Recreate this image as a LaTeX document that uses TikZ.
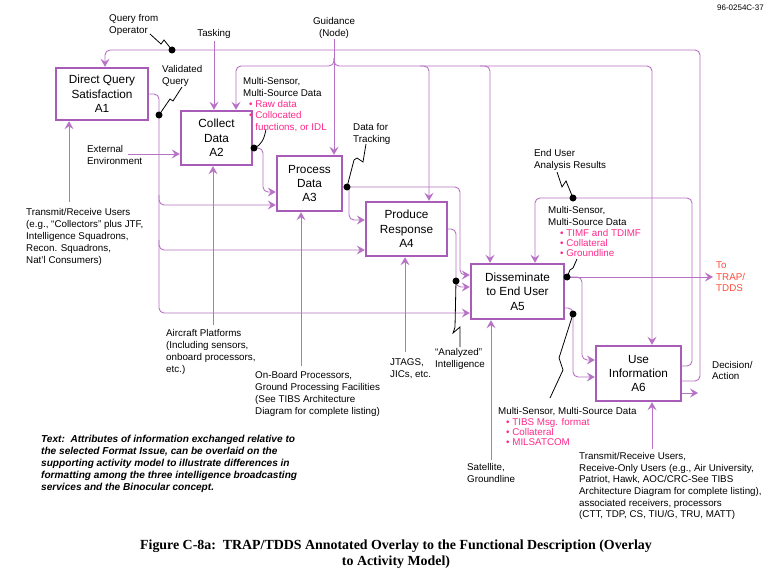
\documentclass[tikz,border=0pt]{standalone}
\usepackage{fontspec}
\setmainfont{Liberation Sans}
\newfontfamily\capfont{Liberation Serif}
\usetikzlibrary{arrows.meta}
\definecolor{linecol}{HTML}{B772C6}
\definecolor{boxcol}{HTML}{A85CB8}
\definecolor{pinkcol}{HTML}{FF2A8A}
\definecolor{redcol}{HTML}{FF4A3A}
\begin{document}
\begin{tikzpicture}[x=1pt,y=-1pt,
 box/.style={draw=boxcol, line width=2.4pt, align=center, inner sep=0pt, font=\fontsize{11.8}{14.3}\selectfont},
 conn/.style={draw=linecol, line width=0.9pt, rounded corners=5pt},
 arr/.style={conn, -{Stealth[length=8pt,width=9pt,inset=3pt,fill=linecol]}},
 lab/.style={align=left, inner sep=0pt, anchor=north west, font=\fontsize{9.8}{12}\selectfont},
 pinklab/.style={lab, text=pinkcol, font=\fontsize{9.8}{10.3}\selectfont},
 bolt/.style={draw=black, line width=0.8pt},
 dot/.style={circle, fill=black, inner sep=0pt, minimum size=7pt},
]
\useasboundingbox[fill=white] (0,0) rectangle (775,575);

% boxes
\node[box, minimum width=92pt, minimum height=52pt] (A1) at (102,94) {Direct Query\\Satisfaction\\A1};
\node[box, minimum width=71pt, minimum height=54pt] (A2) at (216.5,138) {Collect\\Data\\A2};
\node[box, minimum width=65pt, minimum height=55pt] (A3) at (309.5,183.5) {Process\\Data\\A3};
\node[box, minimum width=81pt, minimum height=54pt] (A4) at (406.5,229) {Produce\\Response\\A4};
\node[box, minimum width=93pt, minimum height=55pt] (A5) at (517.5,291.5) {Disseminate\\to End User\\A5};
\node[box, minimum width=85pt, minimum height=55pt] (A6) at (638.5,373.5) {Use\\Information\\A6};

% labels
\node[lab, anchor=north east, font=\fontsize{8}{9}\selectfont] (ref) at (764,5) {96-0254C-37};
\node[lab] (qfo) at (109,14) {Query from\\Operator};
\node[lab, anchor=south] (task) at (214,38.5) {Tasking};
\node[lab, anchor=south, align=center] (guid) at (334,38.5) {Guidance\\(Node)};
\node[lab] (vq) at (162,65) {Validated\\Query};
\node[lab] (ms2) at (243,77) {Multi-Sensor,\\Multi-Source Data};
\node[pinklab, font=\fontsize{9.8}{11.5}\selectfont] (pk2) at (249,100) {\textbullet\ Raw data\\\textbullet\ Collocated\\\phantom{\textbullet\ }functions, or IDL};
\node[lab] (dft) at (353,123) {Data for\\Tracking};
\node[lab] (eua) at (534,149) {End User\\Analysis Results};
\node[lab] (ms5) at (548,206) {Multi-Sensor,\\Multi-Source Data};
\node[pinklab] (pk5) at (560,229) {\textbullet\ TIMF and TDIMF\\\textbullet\ Collateral\\\textbullet\ Groundline};
\node[lab, text=redcol, font=\fontsize{9.8}{11.5}\selectfont] (trap) at (716,262) {To\\TRAP/\\TDDS};
\node[lab, font=\fontsize{9.8}{11}\selectfont] (dec) at (712,361) {Decision/\\Action};
\node[lab] (ext) at (87,145) {External\\Environment};
\node[lab] (trl) at (26,208) {Transmit/Receive Users\\(e.g., ``Collectors'' plus JTF,\\Intelligence Squadrons,\\Recon. Squadrons,\\Nat'l Consumers)};
\node[lab] (air) at (166,329) {Aircraft Platforms\\(Including sensors,\\onboard processors,\\etc.)};
\node[lab] (obp) at (255,371) {On-Board Processors,\\Ground Processing Facilities\\(See TIBS Architecture\\Diagram for complete listing)};
\node[lab] (jt) at (390,358) {JTAGS,\\JICs, etc.};
\node[lab] (ai) at (435,348) {``Analyzed''\\Intelligence};
\node[lab] (sat) at (467,463) {Satellite,\\Groundline};
\node[lab] (ms6) at (498,407) {Multi-Sensor, Multi-Source Data};
\node[pinklab] (pk6) at (506,418) {\textbullet\ TIBS Msg. format\\\textbullet\ Collateral\\\textbullet\ MILSATCOM};
\node[lab, font=\fontsize{9.8}{11.7}\selectfont] (trr) at (579,452) {Transmit/Receive Users,\\Receive-Only Users (e.g., Air University,\\Patriot, Hawk, AOC/CRC-See TIBS\\Architecture Diagram for complete listing),\\associated receivers, processors\\(CTT, TDP, CS, TIU/G, TRU, MATT)};
\node[lab, font=\fontsize{10.1}{12}\selectfont\bfseries\itshape] (txt) at (41,434.5) {Text:\ \ Attributes of information exchanged relative to\\the selected Format Issue, can be overlaid on the\\supporting activity model to illustrate differences in\\formatting among the three intelligence broadcasting\\services and the Binocular concept.};
\node[align=center, inner sep=0pt, font=\capfont\fontsize{13.9}{16}\selectfont\bfseries] (cap) at (396,554) {Figure C-8a:\ \ TRAP/TDDS Annotated Overlay to the Functional Description (Overlay\\to Activity Model)};

% coordinates
\coordinate (extp) at (128,154);

% top feedback loop A6 -> A1
\draw[arr] (A6.east |- 0,381) -- (700,381) -- (700,50) -- (105,50) -- (A1.north -| 105,0);
% A6 -> A5 feedback
\draw[arr] (A6.east |- 0,366) -- (692,366) -- (692,198) -- (535,198) -- (A5.north -| 535,0);
% decision
\draw[arr] (A6.east |- 0,393) -- (698,393);
% tasking
\draw[arr] ([yshift=-3pt]task.south) -- (task.south |- A2.north);
% guidance
\draw[arr] ([yshift=-1pt]guid.south) -- (guid.south |- A3.north);
\draw[arr] (334,58) -- (334,66) -- (236,66) -- (A2.north -| 236,0);
\draw[arr] (334,58) -- (334,66) -- (652,66) -- (A6.north -| 652,0);
\draw[arr] (420,66) -- (429,66) -- (A4.north -| 429,0);
\draw[arr] (480,66) -- (490,66) -- (A5.north -| 490,0);
% validated query
\draw[arr] (A1.east |- 0,94) -- (159,94) -- (159,313) -- (A5.west |- 0,313);
\draw[arr] (159,195) -- (159,205) -- (A3.west |- 0,205);
\draw[arr] (159,240) -- (159,250) -- (A4.west |- 0,250);
% external environment
\draw[arr] (extp) -- (A2.west |- extp);
% mechanisms
\draw[arr] (69,202) -- (A1.south -| 69,0);
\draw[arr] (213,325) -- (A2.south -| 213,0);
\draw[arr] (301,366) -- (A3.south -| 301,0);
\draw[arr] (405,352) -- (A4.south -| 405,0);
\draw[arr] (491,460) -- (A5.south -| 491,0);
\draw[arr] (652,449) -- (A6.south -| 652,0);
% A2 output
\draw[arr] (A2.east |- 0,148) -- (263,148) -- (263,192) -- (A3.west |- 0,192);
% A3 output
\draw[arr] (A3.east |- 0,187) -- (460,187) -- (460,275) -- (A5.west |- 0,275);
\draw[arr] (349,187) -- (349,220) -- (A4.west |- 0,220);
% A4 output
\draw[arr] (A4.east |- 0,229) -- (456,229) -- (456,287) -- (A5.west |- 0,287);
% A5 outputs
\draw[arr] (A5.east |- 0,277) -- (713,277);
\draw[arr] (568,277) -- (582,277) -- (582,360) -- (A6.west |- 0,360);
\draw[arr] (A5.east |- 0,308) -- (573,308) -- (573,377) -- (A6.west |- 0,377);

% dots
\node[dot] (qd) at (172,50) {};
\node[dot] (vd) at (159,115) {};
\node[dot] (d2) at (254,148) {};
\node[dot] (d3) at (347,187) {};
\node[dot] (d4) at (456,281) {};
\node[dot] (d5a) at (567,277) {};
\node[dot] (d5b) at (573,314) {};
\node[dot] (d6) at (573,198) {};

% lightning leaders
\draw[bolt] (150,34) -- (161,44) -- (164,40) -- (qd.center);
\draw[bolt] (182,87) -- (173,101) -- (170,99) -- (vd.center);
\draw[bolt] (266,129) to[out=-100,in=20] (d2.center);
\draw[bolt] (366,144) -- (363,162) -- (357,158) -- (354,160) -- (d3.center);
\draw[bolt] (557,172) -- (562,187) -- (566,181) -- (d6.center);
\draw[bolt] (577,259) -- (573,268) -- (570,270) -- (d5a.center);
\draw[bolt] (d4.center) -- (455,327) -- (453,333) -- (460,327) -- (460,347);
\draw[bolt] (d5b.center) -- (559,358) -- (563,370) -- (550,398);
\end{tikzpicture}
\end{document}
